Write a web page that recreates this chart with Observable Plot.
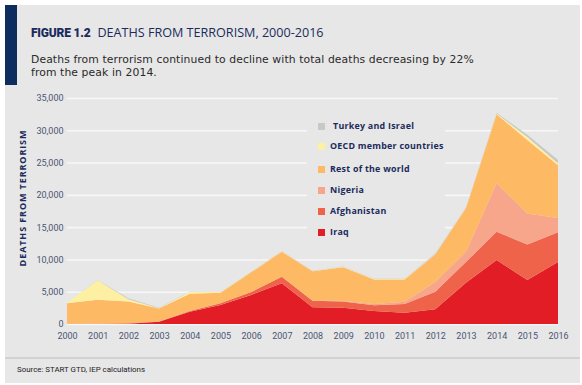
<!DOCTYPE html>
<html>
<head>
<meta charset="utf-8">
<script src="https://cdn.jsdelivr.net/npm/d3@7"></script>
<script src="https://cdn.jsdelivr.net/npm/@observablehq/plot@0.6"></script>
<style>
  html, body { margin: 0; padding: 0; background: #fff; }
  #page { position: relative; width: 582px; height: 385px; overflow: hidden; font-family: Roboto, "Open Sans", sans-serif; }
  #panel { position: absolute; left: 5px; top: 5px; width: 575px; height: 378px; background: #e7e7e7; }
  #bar { position: absolute; left: 5px; top: 5px; width: 12px; height: 80px; background: #0d2d5e; }
  #title { position: absolute; left: 31px; top: 26px; font-size: 12px; line-height: 14px; color: #1b2b5c; white-space: nowrap; }
  #title b { font-family: Roboto, sans-serif; font-weight: 900; margin-right: 7px; letter-spacing: -0.2px; }
  #title .t { font-family: "Open Sans", sans-serif; font-size: 12.6px; }
  .sub { position: absolute; left: 31px; font-family: "DejaVu Sans", sans-serif; font-size: 10.8px; line-height: 10.8px; color: #2a2a2a; white-space: nowrap; letter-spacing: 0.1px; }
  #chart { position: absolute; left: 0; top: 88px; }
  #ytitle { position: absolute; left: 23px; top: 198px; transform: translate(-50%, -50%) rotate(-90deg); font-family: "Open Sans", sans-serif; font-size: 9px; font-weight: 700; letter-spacing: 0.9px; color: #1b2b5c; white-space: nowrap; line-height: 10px; }
  #legend { position: absolute; left: 307px; top: 116px; width: 138px; height: 122px; background: #e7e7e7; }
  .li { position: absolute; left: 11px; font-family: "Open Sans", sans-serif; font-size: 8.9px; font-weight: 700; letter-spacing: 0.25px; color: #1b2b5c; white-space: nowrap; line-height: 10px; }
  .li span { display: inline-block; width: 7px; height: 7px; margin-right: 5px; vertical-align: -0.5px; }
  #sep { position: absolute; left: 5px; top: 357px; width: 575px; height: 2px; background: #d2d2d2; }
  #source { position: absolute; left: 17px; top: 365px; font-size: 7.9px; color: #222; white-space: nowrap; }
</style>
</head>
<body>
<div id="page">
  <div id="panel"></div>
  <div id="bar"></div>
  <div id="title"><b>FIGURE 1.2</b><span class="t">DEATHS FROM TERRORISM, 2000-2016</span></div>
  <div class="sub" style="top:55px">Deaths from terrorism continued to decline with total deaths decreasing by 22%</div>
  <div class="sub" style="top:67.8px">from the peak in 2014.</div>
  <div id="chart"></div>
  <div id="ytitle">DEATHS FROM TERRORISM</div>
  <div id="legend"></div>
  <div id="sep"></div>
  <div id="source">Source: START GTD, IEP calculations</div>
</div>
<script>
const years = [2000, 2001, 2002, 2003, 2004, 2005, 2006, 2007, 2008, 2009, 2010, 2011, 2012, 2013, 2014, 2015, 2016];
const seriesNames = ["Iraq", "Afghanistan", "Nigeria", "Rest of the world", "OECD member countries", "Turkey and Israel"];
const seriesColors = ["#e31d25", "#ef634a", "#f7a68b", "#fdb964", "#fdf0a3", "#c8c8c8"];
const iraq        = [0, 0, 50, 350, 1900, 2950, 4500, 6300, 2600, 2500, 2000, 1750, 2300, 6400, 9900, 6800, 9600];
const afghanistan = [50, 50, 50, 30, 100, 250, 450, 1000, 1000, 1000, 900, 1350, 2700, 3200, 4400, 5500, 4600];
const nigeria     = [20, 20, 30, 0, 0, 0, 0, 0, 50, 50, 200, 350, 1500, 1600, 7500, 4800, 2200];
const restOfWorld = [3160, 3700, 3370, 2020, 2700, 1650, 3050, 3900, 4500, 5250, 3800, 3450, 4270, 6740, 10700, 11400, 8200];
const oecd        = [50, 3000, 350, 50, 250, 100, 50, 50, 50, 50, 50, 100, 50, 80, 100, 450, 300];
const turkeyIsrael= [20, 30, 150, 50, 50, 50, 50, 50, 50, 50, 50, 50, 80, 80, 100, 350, 500];
const yTicks = [0, 5000, 10000, 15000, 20000, 25000, 30000, 35000];
const legendOrder = ["Turkey and Israel", "OECD member countries", "Rest of the world", "Nigeria", "Afghanistan", "Iraq"];

const seriesValues = [iraq, afghanistan, nigeria, restOfWorld, oecd, turkeyIsrael];
const table = [];
seriesNames.forEach((name, i) => {
  years.forEach((year, j) => table.push({year, series: name, value: seriesValues[i][j]}));
});

const font = "Roboto, 'Open Sans', sans-serif";
const chart = Plot.plot({
  width: 582,
  height: 262,
  marginTop: 10,
  marginBottom: 26,
  marginLeft: 67,
  marginRight: 24,
  style: {background: "transparent", fontFamily: font, fontSize: "9px", color: "#4b5573", overflow: "visible"},
  x: {domain: [2000, 2016], label: null},
  y: {domain: [0, 35000], label: null},
  color: {domain: seriesNames, range: seriesColors},
  marks: [
    Plot.gridY(yTicks, {stroke: "#f7f7f7", strokeOpacity: 1, strokeWidth: 1.6}),
    Plot.areaY(table, {x: "year", y: "value", fill: "series", z: "series", order: seriesNames}),
    Plot.axisX(years, {tickSize: 0, tickPadding: 8, tickFormat: d => String(d), label: null, fill: "#4b5573"}),
    Plot.axisY(yTicks, {tickSize: 0, tickPadding: 4, tickFormat: d3.format(","), label: null, fill: "#4b5573"})
  ]
});
document.getElementById("chart").appendChild(chart);

const legendTops = [5, 25, 48, 69, 90, 111];
const legend = document.getElementById("legend");
legendOrder.forEach((name, i) => {
  const d = document.createElement("div");
  d.className = "li";
  d.style.top = legendTops[i] + "px";
  const sw = document.createElement("span");
  sw.style.background = seriesColors[seriesNames.indexOf(name)];
  if (i === 0) sw.style.marginRight = "8px";
  d.appendChild(sw);
  d.appendChild(document.createTextNode(name));
  legend.appendChild(d);
});
</script>
</body>
</html>
